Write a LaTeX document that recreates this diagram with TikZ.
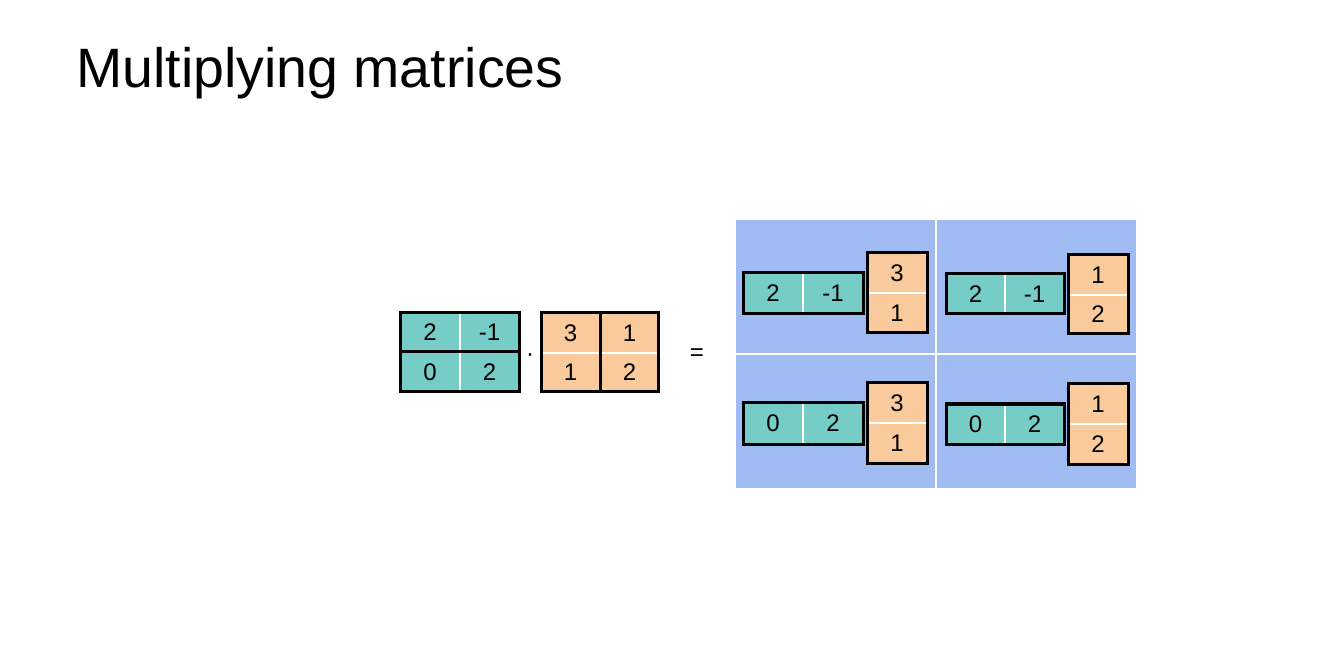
\documentclass[tikz,border=0pt]{standalone}
\usepackage{fontspec}
\setmainfont{Liberation Sans}
\definecolor{tealc}{HTML}{76CCC6}
\definecolor{orangec}{HTML}{F9CB9C}
\definecolor{bluec}{HTML}{A0BAF2}
\begin{document}
\begin{tikzpicture}[x=1pt,y=-1pt,
  cellbase/.style={rectangle, inner sep=0pt, outer sep=0pt, font=\fontsize{24}{28}\selectfont, text=black},
  tcell/.style={cellbase, fill=tealc},
  ocell/.style={cellbase, fill=orangec},
  border/.style={draw=black, line width=3pt},
  wdiv/.style={draw=white, line width=1.2pt},
  qdiv/.style={draw=white, line width=2pt},
  sym/.style={inner sep=0pt, font=\fontsize{24}{28}\selectfont}]
\fill[white] (0,0) rectangle (1326,660);
\useasboundingbox (0,0) rectangle (1326,660);
% title
\node[anchor=base west, inner sep=0pt, font=\fontsize{55.5}{60}\selectfont] (title) at (76,88) {Multiplying matrices};
% matrix A
\node[tcell, minimum width=60, minimum height=39] (a11) at (430,332.5) {2};
\node[tcell, minimum width=59, minimum height=39] (a12) at (489.5,332.5) {-1};
\node[tcell, minimum width=60, minimum height=40] (a21) at (430,372) {0};
\node[tcell, minimum width=59, minimum height=40] (a22) at (489.5,372) {2};
\draw[wdiv] (a11.north east) -- (a21.south east);
\draw[border] (a11.south west) -- (a12.south east);
\draw[border] (a11.north west) rectangle (a22.south east);
% dot
\node[sym] (dot) at (530,358) {·};
% matrix B
\node[ocell, minimum width=59, minimum height=40] (b11) at (570.5,333) {3};
\node[ocell, minimum width=58, minimum height=40] (b12) at (629.5,333) {1};
\node[ocell, minimum width=59, minimum height=39] (b21) at (570.5,372.5) {1};
\node[ocell, minimum width=58, minimum height=39] (b22) at (629.5,372.5) {2};
\draw[wdiv] (b11.south west) -- (b12.south east);
\draw[border] (b11.north east) -- (b21.south east);
\draw[border] (b11.north west) rectangle (b22.south east);
% equals
\node[sym] (eq) at (697,355) {=};
% result background
\node[rectangle, fill=bluec, inner sep=0pt, minimum width=400, minimum height=268] (res) at (936,354) {};
\draw[qdiv] (res.north) -- (res.south);
\draw[qdiv] (res.west) -- (res.east);
% quadrant TL
\node[tcell, minimum width=60, minimum height=41] (p1a) at (773,293.5) {2};
\node[tcell, minimum width=60, minimum height=41] (p1b) at (833,293.5) {-1};
\node[ocell, minimum width=60, minimum height=40] (p1c) at (897,273) {3};
\node[ocell, minimum width=60, minimum height=40] (p1d) at (897,313) {1};
\draw[wdiv] (p1a.north east) -- (p1a.south east);
\draw[border] (p1a.north west) rectangle (p1b.south east);
\draw[wdiv] (p1c.south west) -- (p1c.south east);
\draw[border] (p1c.north west) rectangle (p1d.south east);
% quadrant TR
\node[tcell, minimum width=59, minimum height=40] (p2a) at (975.5,294) {2};
\node[tcell, minimum width=59, minimum height=40] (p2b) at (1034.5,294) {-1};
\node[ocell, minimum width=60, minimum height=40] (p2c) at (1098,275) {1};
\node[ocell, minimum width=60, minimum height=39] (p2d) at (1098,314.5) {2};
\draw[wdiv] (p2a.north east) -- (p2a.south east);
\draw[border] (p2a.north west) rectangle (p2b.south east);
\draw[wdiv] (p2c.south west) -- (p2c.south east);
\draw[border] (p2c.north west) rectangle (p2d.south east);
% quadrant BL
\node[tcell, minimum width=60, minimum height=41] (p3a) at (773,423.5) {0};
\node[tcell, minimum width=60, minimum height=41] (p3b) at (833,423.5) {2};
\node[ocell, minimum width=60, minimum height=40] (p3c) at (897,403) {3};
\node[ocell, minimum width=60, minimum height=40] (p3d) at (897,443) {1};
\draw[wdiv] (p3a.north east) -- (p3a.south east);
\draw[border] (p3a.north west) rectangle (p3b.south east);
\draw[wdiv] (p3c.south west) -- (p3c.south east);
\draw[border] (p3c.north west) rectangle (p3d.south east);
% quadrant BR
\node[tcell, minimum width=59, minimum height=40] (p4a) at (975.5,424) {0};
\node[tcell, minimum width=59, minimum height=40] (p4b) at (1034.5,424) {2};
\node[ocell, minimum width=60, minimum height=40] (p4c) at (1098,404) {1};
\node[ocell, minimum width=60, minimum height=40] (p4d) at (1098,444) {2};
\draw[wdiv] (p4a.north east) -- (p4a.south east);
\draw[border] (p4a.north west) rectangle (p4b.south east);
\draw[wdiv] (p4c.south west) -- (p4c.south east);
\draw[border] (p4c.north west) rectangle (p4d.south east);
\end{tikzpicture}
\end{document}
